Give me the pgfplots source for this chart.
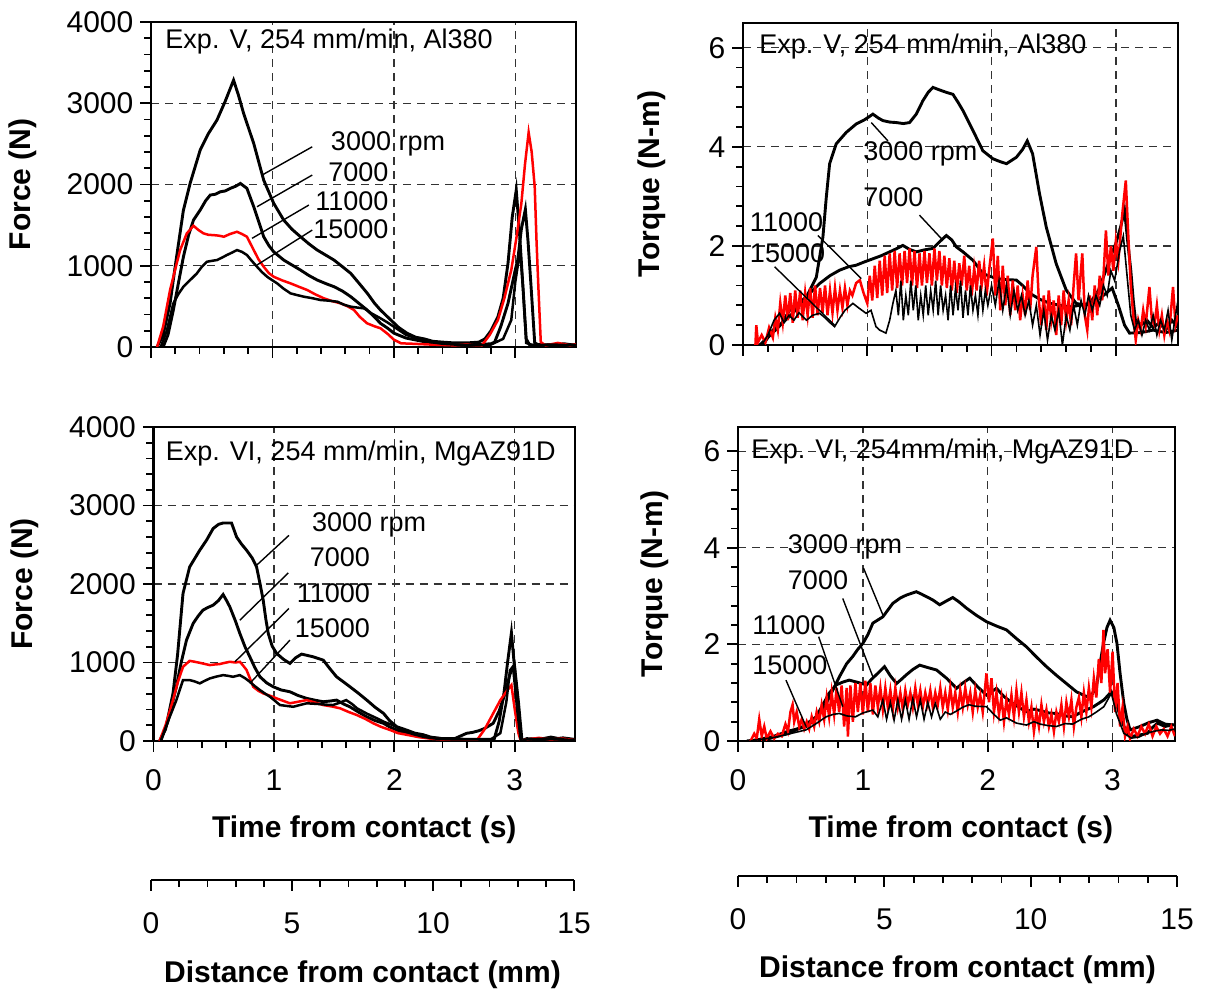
\documentclass[border=0pt]{standalone}
\usepackage{fontspec}
\setmainfont{Liberation Sans}
\usepackage{pgfplots}
\pgfplotsset{compat=1.18}
\tikzset{ann/.style={font=\fontsize{13.5}{16}\selectfont, inner sep=0pt}}
\pgfplotsset{
  panel/.style={
    scale only axis, anchor=south west,
    xmin=0, xmax=3.5, xtick={0,1,2,3}, minor x tick num=4, minor y tick num=4,
    tick pos=left, tick align=outside,
    major tick length=5.3pt, minor tick length=3.5pt,
    xmajorgrids, ymajorgrids,
    major grid style={black!80, line width=0.65pt, dash pattern=on 4pt off 3pt},
    axis line style={line width=1.2pt},
    every tick/.append style={black, line width=0.9pt},
    tick label style={font=\fontsize{15}{17}\selectfont},
    x tick label style={yshift=-5.5pt},
    /pgf/number format/assume math mode=true,
    /pgf/number format/1000 sep={},
    label style={font=\bfseries\fontsize{15}{18}\selectfont},
  },
  force/.style={panel, ymin=0, ymax=4000, ytick={0,1000,2000,3000,4000}},
  torque/.style={panel, ymin=0, ymax=6.5, ytick={0,2,4,6}},
  thickblk/.style={black, line width=1.45pt},
  redl/.style={red, line width=1.25pt},
  thinblk/.style={black, line width=1.25pt},
  thinnerblk/.style={black, line width=0.8pt},
  lead/.style={black, line width=0.7pt},
  distax/.style={
    scale only axis, anchor=south west, height=1pt,
    xmin=0, xmax=15, ymin=0, ymax=1, xtick={0,5,10,15}, minor x tick num=4,
    axis x line=bottom, axis y line=none, axis line style={-, line width=1.2pt},
    tick align=outside, major tick length=5.3pt, minor tick length=3.5pt,
    every tick/.append style={black, line width=0.9pt},
    tick label style={font=\fontsize{15}{17}\selectfont},
    x tick label style={yshift=-7.5pt},
    /pgf/number format/assume math mode=true,
    xlabel={Distance from contact (mm)},
    label style={font=\bfseries\fontsize{15}{18}\selectfont},
  },
}
\begin{document}
\begin{tikzpicture}
\useasboundingbox (0,0) rectangle (606.5pt,497pt);
% ---------------- Top left: force, Al380
\begin{axis}[force, at={(75.5pt,323.5pt)}, width=212.5pt, height=162.5pt,
  xticklabels={}, ylabel={Force (N)},
  ylabel style={at={(axis description cs:-0.302,0.5)}, anchor=center}]
\addplot[thickblk] coordinates {(0.05,0) (0.1,150) (0.157,537) (0.2,1000) (0.267,1685) (0.322,2013) (0.405,2423) (0.47,2620) (0.543,2792) (0.61,3020) (0.68,3284) (0.72,3100) (0.763,2874) (0.846,2505) (0.928,2054) (1.011,1767) (1.093,1562) (1.16,1450) (1.231,1357) (1.30,1270) (1.369,1193) (1.44,1130) (1.507,1070) (1.575,990) (1.645,906) (1.71,790) (1.782,660) (1.84,540) (1.89,455) (1.975,332) (2.04,240) (2.11,168) (2.18,120) (2.25,100) (2.32,70) (2.40,60) (2.5,50) (2.6,50) (2.7,60) (2.75,100) (2.8,200) (2.857,373) (2.9,600) (2.94,1030) (2.975,1600) (3.008,1931) (3.035,1400) (3.063,742) (3.09,100) (3.12,20) (3.2,30) (3.3,20) (3.4,40) (3.5,20)};
\addplot[thickblk] coordinates {(0.1,0) (0.14,150) (0.184,455) (0.225,780) (0.267,1111) (0.31,1380) (0.35,1562) (0.405,1685) (0.45,1800) (0.488,1870) (0.53,1880) (0.57,1910) (0.61,1920) (0.653,1952) (0.7,1980) (0.736,2013) (0.79,1952) (0.846,1726) (0.89,1530) (0.928,1357) (0.97,1250) (1.01,1172) (1.093,1070) (1.16,1010) (1.231,947) (1.30,880) (1.369,824) (1.44,780) (1.507,742) (1.575,690) (1.645,619) (1.71,540) (1.78,455) (1.84,370) (1.89,291) (1.95,230) (2.0,170) (2.1,110) (2.2,80) (2.3,50) (2.4,40) (2.5,30) (2.6,40) (2.7,30) (2.8,40) (2.83,60) (2.88,250) (2.94,537) (3.0,950) (3.02,1070) (3.05,1450) (3.083,1694) (3.105,1300) (3.13,742) (3.16,50) (3.2,20) (3.3,30) (3.4,20) (3.5,30)};
\addplot[redl] coordinates {(0.05,0) (0.1,250) (0.157,701) (0.2,960) (0.24,1193) (0.295,1398) (0.35,1492) (0.39,1440) (0.433,1398) (0.475,1380) (0.515,1377) (0.56,1370) (0.6,1357) (0.65,1390) (0.708,1418) (0.75,1390) (0.79,1357) (0.846,1193) (0.885,1080) (0.928,988) (0.97,910) (1.01,865) (1.08,820) (1.149,783) (1.22,740) (1.287,701) (1.35,650) (1.424,599) (1.49,565) (1.562,537) (1.62,500) (1.672,455) (1.72,370) (1.78,291) (1.84,255) (1.89,230) (1.95,160) (2.0,90) (2.06,45) (2.15,40) (2.3,30) (2.5,20) (2.6,30) (2.72,10) (2.79,150) (2.857,332) (2.91,600) (2.967,947) (3.01,1350) (3.05,1767) (3.08,2250) (3.11,2640) (3.135,2400) (3.16,1972) (3.175,1300) (3.19,742) (3.21,60) (3.25,20) (3.35,50) (3.45,20) (3.5,30)};
\addplot[thinblk] coordinates {(0.08,0) (0.13,200) (0.184,537) (0.225,650) (0.267,742) (0.32,820) (0.378,906) (0.42,990) (0.46,1049) (0.5,1060) (0.543,1070) (0.585,1100) (0.625,1132) (0.665,1160) (0.708,1193) (0.75,1170) (0.79,1132) (0.83,1060) (0.873,988) (0.915,920) (0.956,865) (1.0,820) (1.039,783) (1.09,720) (1.149,660) (1.2,640) (1.259,619) (1.33,600) (1.397,578) (1.465,570) (1.535,557) (1.59,520) (1.645,496) (1.7,485) (1.755,475) (1.82,410) (1.89,353) (1.95,300) (2.0,250) (2.1,150) (2.2,100) (2.3,60) (2.4,40) (2.5,30) (2.6,20) (2.7,20) (2.8,30) (2.9,100) (2.967,332) (3.0,800) (3.04,1193) (3.065,700) (3.09,50) (3.15,20) (3.3,30) (3.5,20)};
\addplot[lead] coordinates {(1.328,2464) (0.915,2116)};
\addplot[lead] coordinates {(1.328,2116) (0.873,1726)};
\addplot[lead] coordinates {(1.30,1747) (0.832,1337)};
\addplot[lead] coordinates {(1.328,1439) (0.873,1009)};
\node[ann, anchor=west] at (axis cs:0.116,3758) {Exp. V, 254 mm/min, Al380};
\node[ann, anchor=west] at (axis cs:1.479,2499) {3000 rpm};
\node[ann, anchor=east] at (axis cs:1.959,2154) {7000};
\node[ann, anchor=east] at (axis cs:1.959,1797) {11000};
\node[ann, anchor=east] at (axis cs:1.959,1453) {15000};
\end{axis}
% ---------------- Top right: torque, Al380
\begin{axis}[torque, at={(371.5pt,324.5pt)}, width=217.5pt, height=161pt,
  xticklabels={}, ylabel={Torque (N-m)},
  ylabel style={at={(axis description cs:-0.209,0.5)}, anchor=center}]
\addplot[thickblk] coordinates {(0.16,0) (0.24,0.30) (0.32,0.45) (0.40,0.64) (0.51,0.97) (0.59,1.37) (0.643,2.18) (0.67,2.98) (0.697,3.66) (0.75,4.06) (0.83,4.29) (0.91,4.46) (0.98,4.55) (1.045,4.66) (1.09,4.58) (1.125,4.53) (1.18,4.50) (1.233,4.49) (1.29,4.47) (1.34,4.49) (1.394,4.66) (1.447,4.93) (1.49,5.10) (1.528,5.20) (1.58,5.15) (1.636,5.10) (1.689,5.06) (1.73,4.90) (1.77,4.73) (1.85,4.33) (1.93,3.92) (2.01,3.76) (2.07,3.70) (2.12,3.66) (2.20,3.79) (2.25,3.95) (2.287,4.12) (2.33,3.86) (2.386,3.05) (2.44,2.38) (2.52,1.64) (2.60,1.11) (2.68,0.84) (2.75,0.80) (2.82,0.85) (2.9,1.0) (2.97,1.15) (3.02,0.8) (3.07,0.4) (3.11,0.24) (3.2,0.25) (3.3,0.3) (3.4,0.25) (3.5,0.3)};
\addplot[thickblk] coordinates {(0.134,0) (0.2,0.15) (0.3,0.4) (0.375,0.70) (0.45,0.85) (0.51,0.97) (0.56,1.1) (0.616,1.24) (0.7,1.4) (0.777,1.51) (0.85,1.58) (0.91,1.61) (0.98,1.68) (1.045,1.74) (1.11,1.80) (1.18,1.88) (1.24,1.95) (1.286,2.01) (1.34,1.93) (1.394,1.88) (1.46,1.92) (1.528,1.95) (1.58,2.08) (1.636,2.21) (1.68,2.12) (1.716,1.98) (1.77,1.88) (1.85,1.71) (1.93,1.44) (2.04,1.34) (2.12,1.32) (2.20,1.31) (2.25,1.20) (2.31,1.04) (2.39,0.92) (2.47,0.84) (2.55,0.80) (2.63,0.77) (2.71,0.80) (2.79,0.84) (2.86,1.1) (2.92,1.51) (2.96,1.8) (3.00,2.05) (3.04,2.4) (3.07,2.72) (3.095,2.1) (3.12,1.51) (3.14,0.9) (3.16,0.44) (3.2,0.4) (3.25,0.5) (3.3,0.35) (3.35,0.45) (3.4,0.3) (3.45,0.5) (3.5,0.35)};
\addplot[redl] coordinates {(0.10,0.0) (0.107,0.40) (0.12,0.05) (0.15,0.2) (0.18,0.05) (0.21,0.35) (0.24,0.15) (0.26,0.55) (0.28,0.3) (0.30,0.85) (0.32,0.45) (0.34,1.0) (0.36,0.5) (0.38,1.05) (0.40,0.45) (0.42,1.1) (0.44,0.55) (0.46,1.1) (0.48,0.5) (0.50,1.05) (0.52,0.6) (0.54,1.15) (0.56,0.55) (0.58,1.2) (0.60,0.6) (0.62,1.15) (0.64,0.65) (0.66,1.2) (0.68,0.6) (0.70,1.1) (0.72,0.65) (0.74,1.15) (0.76,0.7) (0.78,1.1) (0.80,0.75) (0.82,1.15) (0.84,0.8) (0.86,1.1) (0.88,1.0) (0.91,1.25) (0.94,1.31) (0.97,1.05) (1.00,0.84) (1.02,1.4) (1.04,0.9) (1.06,1.6) (1.08,0.95) (1.10,1.7) (1.12,1.0) (1.14,1.8) (1.16,1.05) (1.18,1.85) (1.20,1.1) (1.22,1.9) (1.24,1.15) (1.26,1.85) (1.28,1.2) (1.30,1.9) (1.32,1.25) (1.34,1.95) (1.36,1.2) (1.38,1.9) (1.40,1.15) (1.42,1.85) (1.44,1.2) (1.46,1.9) (1.48,1.25) (1.50,1.85) (1.52,1.2) (1.54,1.95) (1.56,1.3) (1.58,1.9) (1.60,1.2) (1.62,1.8) (1.64,1.15) (1.66,1.75) (1.68,1.1) (1.70,1.7) (1.72,1.05) (1.74,1.65) (1.76,1.2) (1.78,1.8) (1.80,1.1) (1.82,1.6) (1.84,1.0) (1.86,1.55) (1.88,1.1) (1.90,1.7) (1.92,1.2) (1.94,1.6) (1.96,1.0) (1.98,1.5) (2.01,2.15) (2.03,1.0) (2.05,1.8) (2.07,0.7) (2.09,1.6) (2.11,0.8) (2.13,1.4) (2.15,0.6) (2.17,1.3) (2.19,0.7) (2.21,1.2) (2.23,0.5) (2.25,1.0) (2.27,0.6) (2.29,1.3) (2.31,0.7) (2.33,1.4) (2.36,1.98) (2.38,0.9) (2.40,0.4) (2.42,1.0) (2.44,0.3) (2.46,1.1) (2.48,0.5) (2.50,0.9) (2.52,0.2) (2.54,1.0) (2.56,0.4) (2.58,1.1) (2.60,0.5) (2.62,0.9) (2.64,0.4) (2.66,1.2) (2.68,1.85) (2.70,0.9) (2.73,1.85) (2.75,0.6) (2.77,0.3) (2.79,1.0) (2.81,0.5) (2.83,1.2) (2.85,0.6) (2.87,1.4) (2.89,0.9) (2.92,2.31) (2.94,1.4) (2.96,2.0) (2.98,1.5) (3.00,2.1) (3.02,1.7) (3.05,2.6) (3.08,3.32) (3.10,2.2) (3.12,1.2) (3.14,0.6) (3.16,0.1) (3.18,0.5) (3.20,0.3) (3.22,0.7) (3.24,0.4) (3.27,1.17) (3.29,0.5) (3.31,0.4) (3.33,0.8) (3.35,0.3) (3.37,0.6) (3.39,0.2) (3.41,0.5) (3.43,0.3) (3.46,1.17) (3.48,0.4) (3.50,0.6)};
\addplot[thinnerblk] coordinates {(0.15,0) (0.2,0.2) (0.25,0.5) (0.294,0.64) (0.33,0.45) (0.37,0.6) (0.41,0.5) (0.45,0.65) (0.51,0.5) (0.56,0.6) (0.616,0.64) (0.66,0.55) (0.70,0.45) (0.737,0.37) (0.78,0.55) (0.82,0.7) (0.884,0.84) (0.93,0.75) (0.99,0.64) (1.03,0.7) (1.07,0.37) (1.10,0.3) (1.15,0.24) (1.18,0.5) (1.206,0.84) (1.23,1.1) (1.25,0.6) (1.27,1.3) (1.29,0.5) (1.31,1.0) (1.33,0.6) (1.35,1.3) (1.37,0.7) (1.39,1.2) (1.41,0.5) (1.43,1.0) (1.45,0.6) (1.47,1.2) (1.49,0.6) (1.51,1.1) (1.53,0.7) (1.55,1.3) (1.57,0.6) (1.59,1.2) (1.61,0.7) (1.63,1.0) (1.65,0.5) (1.67,1.2) (1.69,0.6) (1.71,1.15) (1.73,0.7) (1.75,1.3) (1.77,0.55) (1.79,1.1) (1.81,0.6) (1.83,1.2) (1.85,0.7) (1.87,1.0) (1.89,0.6) (1.91,1.2) (1.93,0.7) (1.95,1.1) (1.97,0.8) (2.00,1.2) (2.03,0.8) (2.06,1.3) (2.09,0.7) (2.12,1.2) (2.15,0.6) (2.18,1.1) (2.21,0.7) (2.24,1.0) (2.27,0.6) (2.30,0.9) (2.33,0.4) (2.36,0.8) (2.39,0.2) (2.42,0.7) (2.45,0.1) (2.48,0.6) (2.51,0.3) (2.54,0.7) (2.57,0.0) (2.60,0.6) (2.63,0.3) (2.66,0.8) (2.69,0.4) (2.72,0.9) (2.75,0.6) (2.78,1.0) (2.81,0.7) (2.84,1.0) (2.87,0.8) (2.90,1.2) (2.93,1.0) (2.96,1.5) (2.99,1.3) (3.03,1.9) (3.06,2.2) (3.09,1.4) (3.12,0.6) (3.15,0.3) (3.18,0.5) (3.21,0.2) (3.24,0.5) (3.27,0.3) (3.30,0.6) (3.33,0.2) (3.36,0.5) (3.39,0.3) (3.42,0.7) (3.45,0.1) (3.48,0.6) (3.5,0.9)};
\addplot[lead] coordinates {(1.166,4.12) (1.032,4.49)};
\addplot[lead] coordinates {(1.42,2.62) (1.595,2.15)};
\addplot[lead] coordinates {(0.603,2.21) (0.952,1.34)};
\addplot[lead] coordinates {(0.254,1.58) (0.737,0.40)};
\node[ann, anchor=west] at (axis cs:0.128,6.02) {Exp. V, 254 mm/min, Al380};
\node[ann, anchor=west] at (axis cs:0.965,3.86) {3000 rpm};
\node[ann, anchor=west] at (axis cs:0.965,2.98) {7000};
\node[ann, anchor=west] at (axis cs:0.053,2.48) {11000};
\node[ann, anchor=west] at (axis cs:0.053,1.85) {15000};
\end{axis}
% ---------------- Bottom left: force, MgAZ91D
\begin{axis}[force, at={(76.75pt,126.5pt)}, width=210.75pt, height=157pt,
  xlabel={Time from contact (s)}, ylabel={Force (N)},
  xlabel style={at={(axis description cs:0.5,-0.2834)}, anchor=center},
  ylabel style={at={(axis description cs:-0.305,0.5)}, anchor=center}]
\addplot[thickblk] coordinates {(0.05,0) (0.1,150) (0.162,607) (0.2,1100) (0.245,1879) (0.30,2217) (0.384,2430) (0.44,2557) (0.495,2706) (0.54,2760) (0.578,2777) (0.648,2777) (0.69,2599) (0.73,2510) (0.773,2430) (0.82,2330) (0.856,2217) (0.885,2000) (0.911,1794) (0.933,1550) (0.953,1370) (0.985,1210) (1.022,1116) (1.08,1040) (1.133,988) (1.18,1060) (1.23,1107) (1.327,1072) (1.41,1030) (1.46,930) (1.52,818) (1.58,750) (1.632,690) (1.70,610) (1.771,521) (1.84,430) (1.91,352) (1.96,260) (2.02,182) (2.10,140) (2.17,100) (2.24,80) (2.3,50) (2.4,30) (2.5,30) (2.6,20) (2.7,20) (2.8,20) (2.83,30) (2.87,250) (2.91,607) (2.94,1000) (2.972,1378) (3.0,900) (3.03,300) (3.05,0) (3.1,30) (3.2,20) (3.3,50) (3.4,20) (3.5,10)};
\addplot[thickblk] coordinates {(0.06,0) (0.12,250) (0.19,691) (0.23,1000) (0.274,1285) (0.329,1497) (0.37,1590) (0.41,1666) (0.45,1700) (0.495,1730) (0.54,1790) (0.578,1866) (0.61,1780) (0.634,1708) (0.68,1530) (0.717,1370) (0.76,1200) (0.80,1072) (0.84,940) (0.884,818) (0.94,740) (0.994,691) (1.06,650) (1.133,627) (1.2,580) (1.272,543) (1.34,520) (1.41,500) (1.47,510) (1.52,521) (1.58,470) (1.63,436) (1.70,370) (1.77,309) (1.84,260) (1.91,225) (1.96,180) (2.02,140) (2.1,100) (2.2,60) (2.3,40) (2.4,30) (2.5,30) (2.6,98) (2.65,110) (2.7,130) (2.75,160) (2.82,225) (2.87,380) (2.91,564) (2.96,850) (2.997,967) (3.03,500) (3.06,0) (3.1,20) (3.2,30) (3.3,20) (3.4,40) (3.5,20)};
\addplot[redl] coordinates {(0.05,0) (0.1,200) (0.162,521) (0.2,740) (0.245,945) (0.30,1021) (0.34,1010) (0.384,996) (0.43,980) (0.468,967) (0.51,975) (0.55,980) (0.59,995) (0.634,1009) (0.68,1000) (0.717,1009) (0.745,960) (0.773,903) (0.80,800) (0.828,691) (0.87,640) (0.911,607) (0.97,575) (1.022,543) (1.08,510) (1.133,480) (1.2,500) (1.272,521) (1.34,490) (1.41,458) (1.48,440) (1.55,416) (1.62,370) (1.688,331) (1.76,280) (1.826,225) (1.89,180) (1.965,140) (2.03,100) (2.1,80) (2.2,50) (2.3,30) (2.4,20) (2.5,20) (2.6,20) (2.69,20) (2.75,150) (2.82,350) (2.88,520) (2.94,650) (2.972,712) (3.0,400) (3.03,100) (3.05,0) (3.1,20) (3.2,40) (3.3,20) (3.4,30) (3.5,10)};
\addplot[thinblk] coordinates {(0.06,0) (0.12,250) (0.19,521) (0.245,776) (0.30,776) (0.34,760) (0.384,734) (0.43,770) (0.468,797) (0.52,820) (0.578,839) (0.62,830) (0.66,818) (0.717,839) (0.76,800) (0.80,754) (0.84,700) (0.884,649) (0.93,600) (0.967,564) (1.01,510) (1.05,458) (1.16,436) (1.22,460) (1.272,480) (1.33,475) (1.38,470) (1.44,462) (1.49,458) (1.55,490) (1.6,521) (1.65,470) (1.69,416) (1.77,350) (1.855,289) (1.92,240) (1.99,200) (2.06,140) (2.15,90) (2.25,50) (2.35,30) (2.5,20) (2.6,20) (2.7,20) (2.8,20) (2.88,100) (2.93,500) (2.96,900) (2.985,950) (3.02,400) (3.05,0) (3.1,20) (3.25,30) (3.4,20) (3.5,10)};
\addplot[lead] coordinates {(1.125,2620) (0.856,2239)};
\addplot[lead] coordinates {(1.119,2141) (0.717,1539)};
\addplot[lead] coordinates {(1.125,1688) (0.676,1009)};
\addplot[lead] coordinates {(1.133,1285) (0.80,734)};
\node[ann, anchor=west] at (axis cs:0.10,3660) {Exp. VI, 254 mm/min, MgAZ91D};
\node[ann, anchor=west] at (axis cs:1.314,2756) {3000 rpm};
\node[ann, anchor=east] at (axis cs:1.80,2344) {7000};
\node[ann, anchor=east] at (axis cs:1.80,1886) {11000};
\node[ann, anchor=east] at (axis cs:1.80,1434) {15000};
\end{axis}
% ---------------- Bottom right: torque, MgAZ91D
\begin{axis}[torque, at={(369pt,126.5pt)}, width=218.5pt, height=157pt,
  xlabel={Time from contact (s)}, ylabel={Torque (N-m)},
  xlabel style={at={(axis description cs:0.51,-0.2834)}, anchor=center},
  ylabel style={at={(axis description cs:-0.19,0.5)}, anchor=center}]
\addplot[thickblk] coordinates {(0.116,0) (0.2,0.05) (0.276,0.09) (0.4,0.2) (0.545,0.30) (0.62,0.45) (0.678,0.64) (0.75,1.0) (0.812,1.33) (0.87,1.6) (0.919,1.75) (0.96,1.9) (1.0,2.02) (1.04,2.2) (1.08,2.44) (1.16,2.57) (1.24,2.85) (1.30,2.96) (1.348,3.02) (1.428,3.09) (1.47,3.04) (1.508,2.99) (1.56,2.92) (1.615,2.82) (1.67,2.90) (1.72,2.97) (1.77,2.88) (1.83,2.75) (1.91,2.60) (1.99,2.47) (2.07,2.38) (2.15,2.30) (2.23,2.12) (2.31,1.95) (2.39,1.74) (2.47,1.54) (2.55,1.36) (2.63,1.19) (2.71,1.02) (2.79,0.92) (2.84,0.98) (2.87,1.12) (2.90,1.6) (2.927,2.02) (2.955,2.35) (2.98,2.50) (3.01,2.35) (3.035,2.02) (3.06,1.4) (3.09,0.78) (3.115,0.45) (3.14,0.23) (3.22,0.3) (3.29,0.38) (3.356,0.43) (3.42,0.35) (3.49,0.33)};
\addplot[thickblk] coordinates {(0.07,0) (0.25,0.05) (0.41,0.16) (0.52,0.3) (0.625,0.50) (0.68,0.75) (0.73,0.99) (0.785,1.16) (0.84,1.22) (0.89,1.26) (0.95,1.22) (1.03,1.16) (1.07,1.28) (1.107,1.37) (1.173,1.54) (1.22,1.35) (1.27,1.19) (1.31,1.28) (1.348,1.37) (1.40,1.48) (1.455,1.57) (1.52,1.52) (1.59,1.47) (1.67,1.30) (1.75,1.09) (1.80,1.20) (1.856,1.30) (1.92,1.12) (1.99,0.95) (2.07,1.09) (2.13,0.92) (2.20,0.78) (2.26,0.68) (2.31,0.61) (2.37,0.66) (2.42,0.63) (2.49,0.58) (2.55,0.57) (2.62,0.52) (2.68,0.50) (2.75,0.60) (2.847,0.71) (2.93,0.85) (2.99,1.02) (3.03,0.8) (3.06,0.50) (3.10,0.25) (3.14,0.09) (3.21,0.12) (3.28,0.16) (3.32,0.28) (3.36,0.37) (3.42,0.30) (3.49,0.34)};
\addplot[redl] coordinates {(0.10,0.0) (0.13,0.15) (0.15,0.05) (0.17,0.45) (0.19,0.1) (0.21,0.3) (0.23,0.05) (0.26,0.2) (0.29,0.05) (0.32,0.15) (0.35,0.1) (0.38,0.35) (0.40,0.2) (0.42,0.6) (0.437,0.75) (0.45,0.4) (0.47,0.6) (0.49,0.3) (0.51,0.45) (0.53,0.25) (0.55,0.4) (0.57,0.25) (0.59,0.5) (0.61,0.3) (0.63,0.6) (0.65,0.4) (0.67,0.75) (0.69,0.45) (0.71,0.9) (0.73,0.5) (0.75,1.0) (0.77,0.55) (0.79,1.1) (0.81,0.6) (0.83,1.15) (0.85,0.3) (0.87,1.1) (0.88,0.09) (0.90,1.15) (0.92,0.4) (0.94,1.2) (0.96,0.6) (0.98,1.2) (1.00,0.55) (1.02,1.25) (1.04,0.6) (1.06,1.2) (1.08,0.55) (1.10,1.15) (1.12,0.7) (1.14,1.1) (1.16,0.65) (1.18,1.1) (1.20,0.7) (1.22,1.05) (1.24,0.65) (1.26,1.1) (1.28,0.7) (1.30,1.0) (1.32,0.65) (1.34,1.05) (1.36,0.75) (1.38,1.0) (1.40,0.7) (1.42,1.1) (1.44,0.75) (1.46,1.05) (1.48,0.7) (1.50,1.0) (1.52,0.75) (1.54,1.05) (1.56,0.7) (1.58,1.0) (1.60,0.75) (1.62,1.1) (1.64,0.7) (1.66,1.0) (1.68,0.65) (1.70,1.1) (1.72,0.7) (1.74,1.0) (1.76,0.6) (1.78,1.05) (1.80,0.7) (1.82,1.1) (1.84,0.75) (1.86,1.0) (1.88,0.6) (1.90,1.05) (1.92,0.7) (1.94,0.95) (1.96,0.6) (1.99,1.40) (2.01,0.8) (2.03,1.3) (2.05,0.6) (2.07,1.0) (2.09,0.55) (2.11,0.9) (2.13,0.4) (2.15,0.85) (2.17,0.55) (2.19,0.95) (2.21,0.5) (2.23,1.05) (2.25,0.6) (2.27,1.0) (2.29,0.5) (2.31,0.85) (2.33,0.4) (2.35,0.7) (2.37,0.2) (2.39,0.6) (2.41,0.3) (2.43,0.75) (2.45,0.4) (2.47,0.65) (2.49,0.3) (2.51,0.55) (2.53,0.2) (2.55,0.6) (2.57,0.4) (2.59,0.75) (2.61,0.3) (2.63,0.8) (2.65,0.5) (2.67,0.85) (2.69,0.3) (2.71,0.7) (2.73,0.9) (2.75,0.5) (2.77,1.0) (2.79,0.6) (2.81,1.1) (2.83,0.7) (2.85,1.3) (2.87,0.9) (2.89,1.7) (2.91,1.2) (2.927,2.30) (2.94,1.4) (2.96,1.9) (2.98,1.0) (3.00,1.85) (3.02,0.6) (3.04,1.2) (3.06,0.3) (3.08,0.7) (3.10,0.1) (3.12,0.3) (3.14,0.05) (3.17,0.25) (3.20,0.1) (3.23,0.3) (3.26,0.15) (3.29,0.35) (3.32,0.1) (3.35,0.3) (3.38,0.15) (3.41,0.25) (3.44,0.1) (3.47,0.3) (3.50,0.1)};
\addplot[thinnerblk] coordinates {(0.1,0) (0.3,0.08) (0.545,0.23) (0.62,0.35) (0.705,0.50) (0.76,0.55) (0.812,0.57) (0.87,0.52) (0.94,0.50) (1.0,0.58) (1.08,0.64) (1.12,0.50) (1.16,0.85) (1.19,0.45) (1.22,0.80) (1.25,0.43) (1.28,0.85) (1.31,0.45) (1.34,0.85) (1.37,0.45) (1.40,0.88) (1.43,0.50) (1.46,0.85) (1.49,0.45) (1.52,0.80) (1.55,0.50) (1.58,0.78) (1.62,0.45) (1.66,0.60) (1.70,0.55) (1.75,0.62) (1.80,0.70) (1.85,0.75) (1.90,0.72) (1.99,0.71) (2.05,0.55) (2.10,0.43) (2.15,0.48) (2.23,0.37) (2.31,0.33) (2.37,0.40) (2.42,0.35) (2.48,0.32) (2.55,0.30) (2.62,0.36) (2.68,0.35) (2.75,0.45) (2.81,0.50) (2.87,0.60) (2.93,0.71) (2.99,0.99) (3.03,0.57) (3.09,0.16) (3.15,0.06) (3.21,0.08) (3.27,0.16) (3.33,0.20) (3.39,0.23) (3.45,0.22) (3.5,0.25)};
\addplot[lead] coordinates {(1.005,3.58) (1.16,2.61)};
\addplot[lead] coordinates {(0.839,2.95) (1.08,1.33)};
\addplot[lead] coordinates {(0.646,2.16) (0.839,0.71)};
\addplot[lead] coordinates {(0.384,1.26) (0.545,0.30)};
\node[ann, anchor=west] at (axis cs:0.103,5.99) {Exp. VI, 254mm/min, MgAZ91D};
\node[ann, anchor=west] at (axis cs:0.397,4.02) {3000 rpm};
\node[ann, anchor=west] at (axis cs:0.397,3.32) {7000};
\node[ann, anchor=west] at (axis cs:0.111,2.40) {11000};
\node[ann, anchor=west] at (axis cs:0.111,1.57) {15000};
\end{axis}
% ---------------- Distance axes
\begin{axis}[distax, at={(75.5pt,57pt)}, width=211.5pt,
  xlabel style={at={(axis description cs:0.5,0)}, anchor=center, yshift=-47.5pt}]
\end{axis}
\begin{axis}[distax, at={(369pt,59pt)}, width=219.5pt,
  xlabel style={at={(axis description cs:0.5,0)}, anchor=center, yshift=-47pt}]
\end{axis}
\end{tikzpicture}
\end{document}
